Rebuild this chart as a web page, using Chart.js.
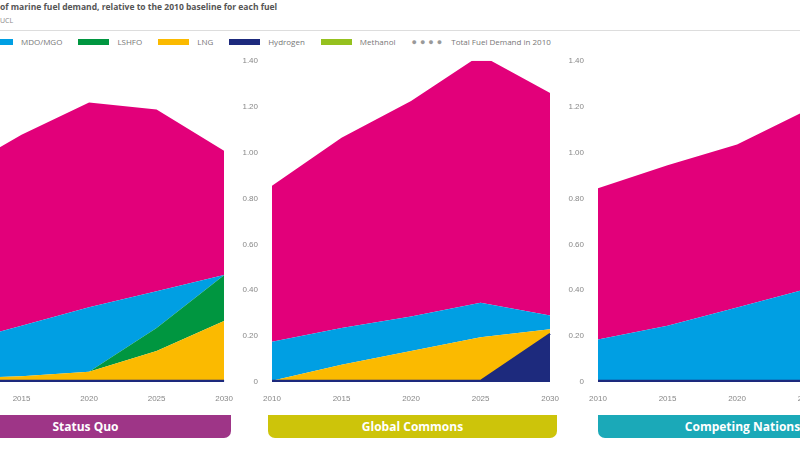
<!DOCTYPE html>
<html><head><meta charset="utf-8">
<script src="https://cdn.jsdelivr.net/npm/chart.js@4/dist/chart.umd.min.js"></script>
<style>
body{margin:0;width:800px;height:450px;overflow:hidden;background:#fff;font-family:"Open Sans",Arial,sans-serif;position:relative}
.abs{position:absolute}
.title{left:0;top:1px;font-size:8.5px;font-weight:bold;color:#555}
.src{left:0;top:16px;font-size:7px;color:#888}
.rule{left:0;top:30px;width:800px;height:1px;background:#ddd}
.leg{top:35px;left:0;font-size:8px;color:#777;display:flex;align-items:center;white-space:nowrap}
.leg span.sw{display:inline-block;width:31px;height:6px;margin-right:8px}
.leg .it{display:flex;align-items:center;margin-right:16px}
.ban{top:415px;height:23px;color:#fff;font-weight:bold;font-size:12px;display:flex;align-items:center;justify-content:center;border-radius:0 0 7px 7px}
</style></head><body>
<div class="abs title">of marine fuel demand, relative to the 2010 baseline for each fuel</div>
<div class="abs src">UCL</div>
<div class="abs rule"></div>
<div class="abs leg" style="left:-18px">
<div class="it"><span class="sw" style="background:#009fe3"></span>MDO/MGO</div>
<div class="it"><span class="sw" style="background:#009640"></span>LSHFO</div>
<div class="it"><span class="sw" style="background:#fbba00"></span>LNG</div>
<div class="it"><span class="sw" style="background:#1d2a7d"></span>Hydrogen</div>
<div class="it"><span class="sw" style="background:#95c11f"></span>Methanol</div>
<div class="it"><span style="color:#999;letter-spacing:3px;margin-right:6px;font-size:9px">●●●●</span>Total Fuel Demand in 2010</div>
</div>
<canvas id="c1" class="abs"></canvas>
<canvas id="c2" class="abs"></canvas>
<canvas id="c3" class="abs"></canvas>
<div class="abs ban" style="left:-60px;width:291px;background:#9e3587">Status Quo</div>
<div class="abs ban" style="left:268px;width:289px;background:#cdc40a">Global Commons</div>
<div class="abs ban" style="left:598px;width:289px;background:#1ba9b8">Competing Nations</div>
<script>
const years=['2010','2015','2020','2025','2030'];
const yTicks=[0,0.2,0.4,0.6,0.8,1.0,1.2,1.4];
const baseline=[1,1,1,1,1];
// Status Quo
const sqHydrogen=[0.005,0.005,0.005,0.005,0.005];
const sqLNG=[0.01,0.02,0.04,0.13,0.26];
const sqLSHFO=[0,0,0,0.10,0.20];
const sqMDO=[0.15,0.22,0.28,0.16,0.0];
const sqHSFO=[0.74,0.83,0.89,0.79,0.54];
// Global Commons
const gcHydrogen=[0.005,0.005,0.005,0.005,0.21];
const gcLNG=[0,0.07,0.13,0.19,0.02];
const gcLSHFO=[0,0,0,0,0];
const gcMDO=[0.17,0.16,0.15,0.15,0.06];
const gcHSFO=[0.68,0.83,0.94,1.08,0.97];
// Competing Nations
const cnHydrogen=[0.005,0.005,0.005,0.005,0.005];
const cnLNG=[0,0,0,0,0];
const cnLSHFO=[0,0,0,0,0];
const cnMDO=[0.18,0.24,0.32,0.40,0.46];
const cnHSFO=[0.66,0.70,0.71,0.78,0.89];

const H=352, AXW=40, PADT=10;
function make(id,left,plotW,showY,h,lng,ls,mdo,hs){
  const cv=document.getElementById(id);
  cv.style.left=(left-AXW)+'px';cv.style.top=(60-PADT)+'px';
  cv.style.width=(plotW+AXW+6)+'px';cv.style.height=H+'px';
  cv.width=plotW+AXW+6;cv.height=H;
  const ds=(label,data,color,fill,bw)=>({label,data,backgroundColor:color,borderColor:color,borderWidth:bw||0,fill,pointRadius:0,tension:0,stack:'a'});
  new Chart(cv,{type:'line',data:{labels:years,datasets:[
    ds('Hydrogen',h,'#1d2a7d','origin',2),
    ds('LNG',lng,'#fbba00','-1'),
    ds('LSHFO',ls,'#009640','-1'),
    ds('MDO/MGO',mdo,'#009fe3','-1'),
    ds('HSFO',hs,'#e2007a','-1'),
    {label:'Total Fuel Demand in 2010',data:baseline,stack:'ref',fill:false,borderColor:'#fff',borderWidth:2,borderDash:[2,3],pointRadius:0}
  ]},options:{responsive:false,animation:false,devicePixelRatio:1,
    layout:{padding:{top:PADT,right:6,left:0,bottom:0}},
    plugins:{legend:{display:false},tooltip:{enabled:false}},
    scales:{
      x:{offset:false,grid:{display:false},border:{display:false},ticks:{color:'#888',font:{size:8},maxRotation:0,padding:4},afterFit:s=>{s.height=20}},
      y:{stacked:true,min:0,max:1.4,grid:{display:false},border:{display:false},
        afterBuildTicks:s=>{s.ticks=yTicks.map(v=>({value:v}))},
        ticks:{display:showY,color:'#888',font:{size:8},padding:6,callback:v=>v===0?'0':v.toFixed(2)},
        afterFit:s=>{s.width=AXW}}
    }}});
}
make('c1',-46,277,false,sqHydrogen,sqLNG,sqLSHFO,sqMDO,sqHSFO);
make('c2',272,285,true,gcHydrogen,gcLNG,gcLSHFO,gcMDO,gcHSFO);
make('c3',598,285,true,cnHydrogen,cnLNG,cnLSHFO,cnMDO,cnHSFO);
</script>
</body></html>
